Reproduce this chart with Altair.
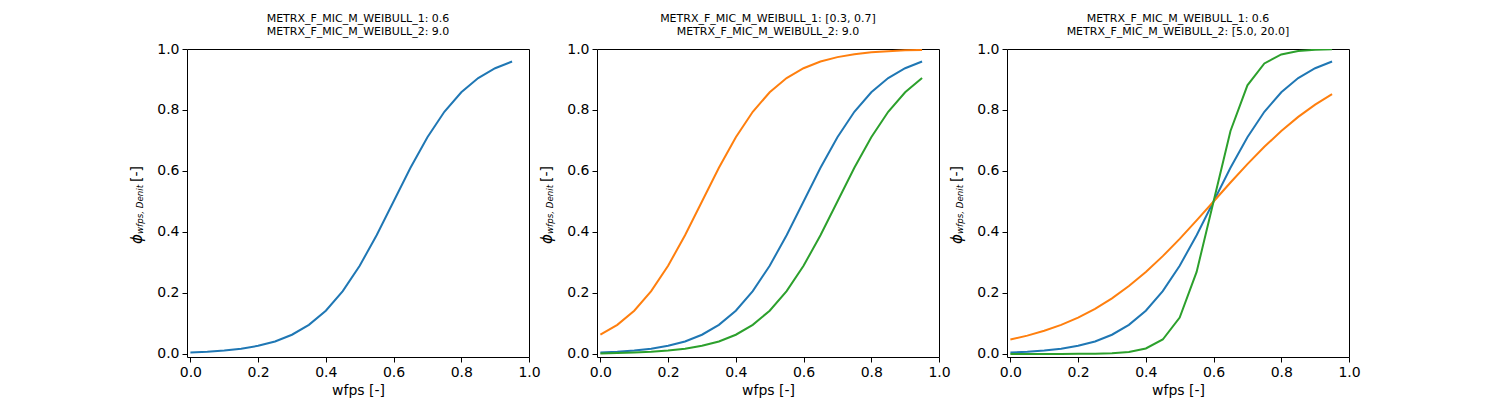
import altair as alt
import pandas as pd

wfps = [0.00, 0.05, 0.10, 0.15, 0.20, 0.25, 0.30, 0.35, 0.40, 0.45,
        0.50, 0.55, 0.60, 0.65, 0.70, 0.75, 0.80, 0.85, 0.90, 0.95]

base_curve = [0.0045, 0.0070, 0.0110, 0.0171, 0.0266, 0.0410, 0.0630, 0.0953, 0.1419, 0.2059,
              0.2891, 0.3894, 0.5000, 0.6106, 0.7109, 0.7941, 0.8581, 0.9047, 0.9370, 0.9590]
p2_orange = [0.0630, 0.0953, 0.1419, 0.2059, 0.2891, 0.3894, 0.5000, 0.6106, 0.7109, 0.7941,
             0.8581, 0.9047, 0.9370, 0.9590, 0.9734, 0.9829, 0.9890, 0.9930, 0.9955, 0.9971]
p2_green = [0.0018, 0.0029, 0.0045, 0.0070, 0.0110, 0.0171, 0.0266, 0.0410, 0.0630, 0.0953,
            0.1419, 0.2059, 0.2891, 0.3894, 0.5000, 0.6106, 0.7109, 0.7941, 0.8581, 0.9047]
p3_orange = [0.0474, 0.0601, 0.0759, 0.0953, 0.1192, 0.1480, 0.1824, 0.2227, 0.2689, 0.3208,
             0.3775, 0.4378, 0.5000, 0.5622, 0.6225, 0.6792, 0.7311, 0.7773, 0.8176, 0.8520]
p3_green = [0.0000, 0.0000, 0.0000, 0.0001, 0.0003, 0.0009, 0.0025, 0.0067, 0.0180, 0.0474,
            0.1192, 0.2689, 0.5000, 0.7311, 0.8808, 0.9526, 0.9820, 0.9933, 0.9975, 0.9991]

titles = [
    ["METRX_F_MIC_M_WEIBULL_1: 0.6", "METRX_F_MIC_M_WEIBULL_2: 9.0"],
    ["METRX_F_MIC_M_WEIBULL_1: [0.3, 0.7]", "METRX_F_MIC_M_WEIBULL_2: 9.0"],
    ["METRX_F_MIC_M_WEIBULL_1: 0.6", "METRX_F_MIC_M_WEIBULL_2: [5.0, 20.0]"],
]
x_ticks = [0.0, 0.2, 0.4, 0.6, 0.8, 1.0]
y_ticks = [0.0, 0.2, 0.4, 0.6, 0.8, 1.0]
x_label = "wfps [-]"

BLUE, ORANGE, GREEN = "#1f77b4", "#ff7f0e", "#2ca02c"
FONT = "DejaVu Sans"
W, H = 342, 308

panels_series = [
    [(base_curve, BLUE)],
    [(base_curve, BLUE), (p2_orange, ORANGE), (p2_green, GREEN)],
    [(base_curve, BLUE), (p3_orange, ORANGE), (p3_green, GREEN)],
]

AX = dict(domain=False, grid=False, ticks=True, tickColor="black", tickSize=5, tickWidth=1,
          labelFont=FONT, labelFontSize=14, labelColor="black", labelPadding=3,
          titleFont=FONT, titleFontSize=14, titleColor="black", titleFontWeight="normal",
          labelFlush=False, labelOverlap=False, format=".1f")


def make_panel(series, title_lines):
    layers = []
    for vals, col in series:
        df = pd.DataFrame({"wfps": wfps, "phi": vals})
        layers.append(
            alt.Chart(df).mark_line(color=col, strokeWidth=2, clip=True).encode(
                x=alt.X("wfps:Q", scale=alt.Scale(domain=[-0.01, 1.0], nice=False, zero=False),
                        axis=alt.Axis(values=x_ticks, title=x_label, titlePadding=4, **AX)),
                y=alt.Y("phi:Q", scale=alt.Scale(domain=[-0.01, 1.0], nice=False, zero=False),
                        axis=alt.Axis(values=y_ticks, title=None, **AX)),
            )
        )
    one = pd.DataFrame({"k": [0]})
    # y-axis title pieces: phi, subscript, [-]
    phi = alt.Chart(one).mark_text(text="ϕ", angle=270, align="left", baseline="alphabetic",
                                   font=FONT, fontSize=15, fontStyle="italic", color="black").encode(
        x=alt.value(-45), y=alt.value(195))
    sub = alt.Chart(one).mark_text(text="wfps, Denit", angle=270, align="left", baseline="alphabetic",
                                   font=FONT, fontSize=8.7, fontStyle="italic", color="black").encode(
        x=alt.value(-44), y=alt.value(185))
    unit = alt.Chart(one).mark_text(text="[-]", angle=270, align="left", baseline="alphabetic",
                                    font=FONT, fontSize=14, color="black").encode(
        x=alt.value(-46), y=alt.value(133))
    return alt.layer(*layers, phi, sub, unit).properties(
        width=W, height=H,
        title=alt.TitleParams(text=title_lines, fontSize=11, font=FONT, fontWeight="normal",
                              color="black", anchor="middle", offset=5, lineHeight=13),
    )


chart = alt.hconcat(
    *[make_panel(s, t) for s, t in zip(panels_series, titles)],
    spacing=68, bounds="flush",
).properties(
    padding={"left": 129, "top": 12, "right": 10, "bottom": 5},
    background="white",
).configure_view(
    stroke="black", strokeWidth=1,
)

chart.save("out.html", embed_options={"renderer": "svg", "actions": False})
